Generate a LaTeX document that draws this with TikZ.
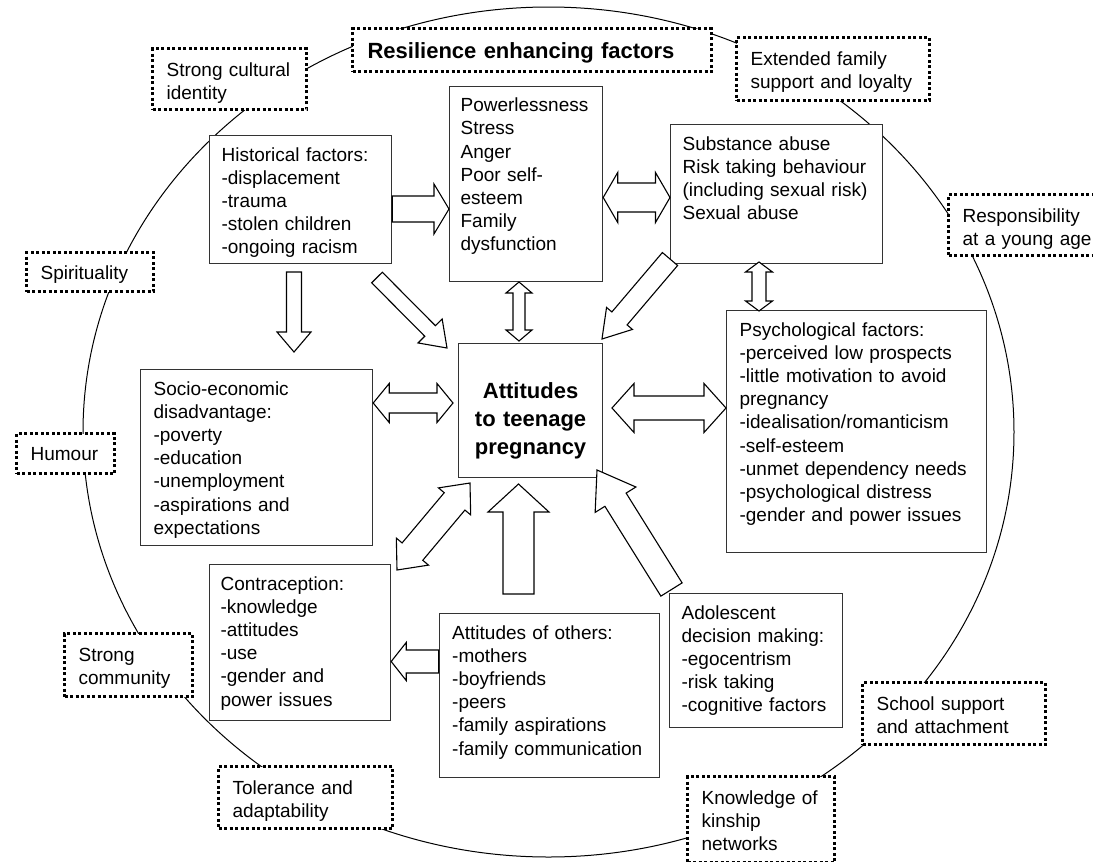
\documentclass[tikz,border=0pt]{standalone}
\usepackage{fontspec}
\setmainfont{Liberation Sans}
\usetikzlibrary{calc}

% hollow block arrows: from, to, half shaft, half head, head length
\newcommand{\hollowarrow}[5]{%
  \path ($(#2)!#5!(#1)$) coordinate (ha-b);
  \draw[block] ($(#1)!#3!90:(#2)$) -- ($(ha-b)!#3!90:(#2)$) -- ($(ha-b)!#4!90:(#2)$) -- (#2)
    -- ($(ha-b)!#4!-90:(#2)$) -- ($(ha-b)!#3!-90:(#2)$) -- ($(#1)!#3!-90:(#2)$) -- cycle;
}
\newcommand{\hollowdouble}[5]{%
  \path ($(#1)!#5!(#2)$) coordinate (hd-a) ($(#2)!#5!(#1)$) coordinate (hd-b);
  \draw[block] (#1) -- ($(hd-a)!#4!90:(#2)$) -- ($(hd-a)!#3!90:(#2)$) -- ($(hd-b)!#3!90:(#2)$)
    -- ($(hd-b)!#4!90:(#2)$) -- (#2) -- ($(hd-b)!#4!-90:(#2)$) -- ($(hd-b)!#3!-90:(#2)$)
    -- ($(hd-a)!#3!-90:(#2)$) -- ($(hd-a)!#4!-90:(#2)$) -- cycle;
}

\begin{document}
\begin{tikzpicture}[x=1pt,y=-1pt,
    factor/.style={draw=black!80,line width=1.2pt,fill=white,anchor=north west,align=left,
      inner xsep=12pt,inner ysep=11.5pt,text height=14pt,font=\fontsize{19}{23.2}\selectfont},
    resil/.style={factor,draw=black,line width=3.2pt,dash pattern=on 3pt off 2.5pt,
      inner xsep=14pt,inner ysep=13.5pt},
    ring/.style={line width=1pt},
    block/.style={draw,fill=white,line width=1.1pt,line join=miter},
  ]
  \useasboundingbox (0,0) rectangle (1093,862);

  \draw[ring] (548.5,432) ellipse [x radius=465.5, y radius=425];

  % resilience factors round the ring
  \node[resil,text width=329pt,inner xsep=15pt,text height=16pt,text depth=0pt,
    font=\fontsize{22}{28}\selectfont\bfseries] (res) at (351,27) {Resilience enhancing factors};
  \node[resil,text width=126pt,text depth=20pt] (cult) at (151,47) {Strong cultural\\identity};
  \node[resil,text width=165pt,text depth=22pt] (ext) at (735,36) {Extended family\\support and loyalty};
  \node[resil,text width=130pt,text depth=20pt] (resp) at (947,193) {Responsibility\\at a young age};
  \node[resil,text width=99pt,inner ysep=12.5pt,text depth=0pt] (spir) at (25,251) {Spirituality};
  \node[resil,text width=70pt,inner ysep=13pt,text depth=0pt] (hum) at (15,432) {Humour};
  \node[resil,text width=100pt,text depth=22pt] (comm) at (63,632) {Strong\\community};
  \node[resil,text width=146pt,text depth=21pt] (tol) at (217,765) {Tolerance and\\adaptability};
  \node[resil,text width=155pt,text depth=21pt] (school) at (861,681) {School support\\and attachment};
  \node[resil,text width=119pt,text depth=45pt] (kin) at (686,775) {Knowledge of\\kinship\\networks};

  % risk factors
  \node[factor,text width=158pt,text depth=91pt] (hist) at (209,135)
    {Historical factors:\\-displacement\\-trauma\\-stolen children\\-ongoing racism};
  \node[factor,text width=131pt,inner xsep=11pt,text depth=158.5pt] (pow) at (449,85.5)
    {Powerlessness\\Stress\\Anger\\Poor self-\\esteem\\Family\\dysfunction};
  \node[factor,text width=188pt,text depth=102pt] (sub) at (670,124)
    {Substance abuse\\Risk taking behaviour\\(including sexual risk)\\Sexual abuse};
  \node[factor,text width=234pt,inner xsep=13pt,text depth=205pt] (psy) at (726,310)
    {Psychological factors:\\-perceived low prospects\\-little motivation to avoid\\pregnancy\\-idealisation/romanticism\\-self-esteem\\-unmet dependency needs\\-psychological distress\\-gender and power issues};
  \node[factor,text width=206pt,inner xsep=13pt,text depth=139pt] (soc) at (140,369)
    {Socio-economic\\disadvantage:\\-poverty\\-education\\-unemployment\\-aspirations and\\expectations};
  \node[factor,align=center,text width=124pt,inner xsep=10pt,inner ysep=0pt,text height=55pt,
    text depth=79pt,font=\fontsize{22}{28}\selectfont\bfseries]
    (att) at (458,343) {Attitudes\\to teenage\\pregnancy};
  \node[factor,text width=159pt,inner xsep=11pt,text depth=119pt] (con) at (209,564)
    {Contraception:\\-knowledge\\-attitudes\\-use\\-gender and\\power issues};
  \node[factor,text width=194pt,inner xsep=13pt,text depth=127pt] (oth) at (438.6,613)
    {Attitudes of others:\\-mothers\\-boyfriends\\-peers\\-family aspirations\\-family communication};
  \node[factor,text width=149pt,text depth=97pt] (adol) at (669,593)
    {Adolescent\\decision making:\\-egocentrism\\-risk taking\\-cognitive factors};

  % arrow ends
  \coordinate (hist-r) at (hist.east |- 0,209);
  \coordinate (pow-l) at (pow.west |- 0,209);
  \coordinate (pow-r) at (pow.east |- 0,197.5);
  \coordinate (sub-l) at (sub.west |- 0,197.5);
  \coordinate (hist-d) at (294,272);
  \coordinate (soc-u) at (294,352);
  \coordinate (hist-se) at (377,277.5);
  \coordinate (att-nw) at (447,348);
  \coordinate (pow-d) at (519,282);
  \coordinate (att-n) at (519,341);
  \coordinate (sub-sw) at (670,259);
  \coordinate (att-ne) at (602,339);
  \coordinate (sub-d) at (759,262);
  \coordinate (psy-u) at (759,311);
  \coordinate (soc-r) at (soc.east |- 0,403);
  \coordinate (att-w) at (453,403);
  \coordinate (att-e) at (612,408);
  \coordinate (psy-l) at (psy.west |- 0,408);
  \coordinate (con-ne) at (397,570);
  \coordinate (att-sw) at (470,483);
  \coordinate (oth-u) at (518.5,594);
  \coordinate (att-s) at (518.5,484);
  \coordinate (adol-nw) at (671.5,589.5);
  \coordinate (att-se) at (597,470);
  \coordinate (oth-l) at (oth.west |- 0,661.5);
  \coordinate (con-r) at (con.east |- 0,661.5);

  \hollowarrow{hist-r}{pow-l}{13pt}{25pt}{15pt}
  \hollowdouble{pow-r}{sub-l}{14.5pt}{25pt}{14.5pt}
  \hollowarrow{hist-d}{soc-u}{7.5pt}{17pt}{20pt}
  \hollowarrow{hist-se}{att-nw}{7.5pt}{17pt}{24pt}
  \hollowdouble{pow-d}{att-n}{6pt}{13pt}{11pt}
  \hollowarrow{sub-sw}{att-ne}{10pt}{17pt}{27pt}
  \hollowdouble{sub-d}{psy-u}{7pt}{13.5pt}{10pt}
  \hollowdouble{soc-r}{att-w}{10pt}{19.5pt}{16pt}
  \hollowdouble{att-e}{psy-l}{12pt}{24.5pt}{22pt}
  \hollowdouble{con-ne}{att-sw}{13.5pt}{21pt}{24pt}
  \hollowarrow{oth-u}{att-s}{15.5pt}{30.5pt}{28pt}
  \hollowarrow{adol-nw}{att-se}{12.5pt}{24pt}{35pt}
  \hollowarrow{oth-l}{con-r}{11.5pt}{19pt}{15pt}
\end{tikzpicture}
\end{document}
